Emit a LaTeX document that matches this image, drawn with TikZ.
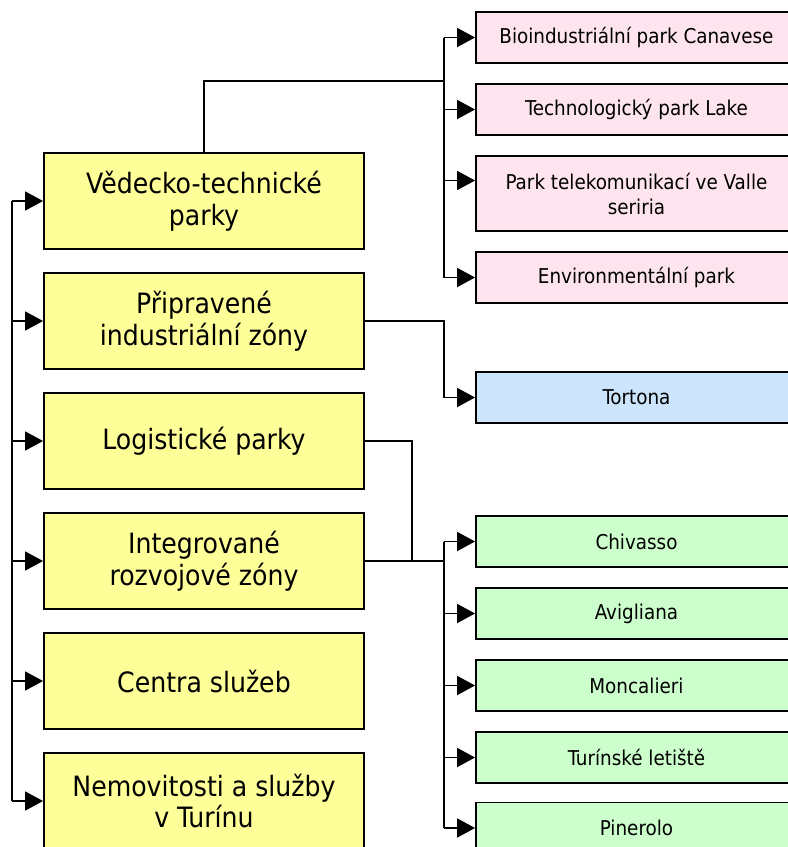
\documentclass[tikz,border=0pt]{standalone}
\usepackage{fontspec}
\setmainfont{DejaVu Sans Condensed}
\usetikzlibrary{arrows.meta}
\definecolor{yelbox}{RGB}{255,255,153}
\definecolor{pinkbox}{RGB}{253,228,238}
\definecolor{bluebox}{RGB}{204,228,252}
\definecolor{greenbox}{RGB}{204,255,204}
\tikzset{
  bigbox/.style={draw=black,line width=1.8pt,fill=yelbox,minimum width=320pt,minimum height=96pt,inner sep=0pt,align=center,font=\fontsize{28}{31.5}\selectfont},
  smallbox/.style={draw=black,line width=1.8pt,minimum width=321pt,minimum height=51pt,inner sep=0pt,align=center,font=\fontsize{20.4}{25}\selectfont},
  conn/.style={line width=1.5pt},
  tip/.style={conn,-{Triangle[length=18pt,width=19pt]}}
}

\begin{document}
\begin{tikzpicture}[x=1pt,y=-1pt]
\useasboundingbox (0,0) rectangle (788,847);
\node[bigbox] (vtp) at (204,201) {Vědecko-technické\\parky};
\node[bigbox] (piz) at (204,321) {Připravené\\industriální zóny};
\node[bigbox] (lp) at (204,441) {Logistické parky};
\node[bigbox] (irz) at (204,561) {Integrované\\rozvojové zóny};
\node[bigbox] (cs) at (204,681) {Centra služeb};
\node[bigbox] (nst) at (204,801) {Nemovitosti a služby\\v Turínu};
\node[smallbox,fill=pinkbox] (bio) at (636.5,37.5) {Bioindustriální park Canavese};
\node[smallbox,fill=pinkbox] (tech) at (636.5,109.5) {Technologický park Lake};
\node[smallbox,fill=pinkbox,minimum height=75pt] (tel) at (636.5,193.5) {Park telekomunikací ve Valle\\seriria};
\node[smallbox,fill=pinkbox] (env) at (636.5,277.5) {Environmentální park};
\node[smallbox,fill=bluebox] (tor) at (636.5,397.5) {Tortona};
\node[smallbox,fill=greenbox] (chi) at (636.5,541.5) {Chivasso};
\node[smallbox,fill=greenbox] (avi) at (636.5,613.5) {Avigliana};
\node[smallbox,fill=greenbox] (mon) at (636.5,685.5) {Moncalieri};
\node[smallbox,fill=greenbox] (let) at (636.5,757.5) {Turínské letiště};
\node[smallbox,fill=greenbox] (pin) at (636.5,828) {Pinerolo};
\coordinate (lbus) at (12,0);
\coordinate (rbus) at (444,0);
\coordinate (mid) at (412,0);
\coordinate (top) at (444,81);
\draw[conn] (vtp.west -| lbus) -- (nst.west -| lbus);
\draw[tip] (vtp.west -| lbus) -- (vtp.west);
\draw[tip] (piz.west -| lbus) -- (piz.west);
\draw[tip] (lp.west -| lbus) -- (lp.west);
\draw[tip] (irz.west -| lbus) -- (irz.west);
\draw[tip] (cs.west -| lbus) -- (cs.west);
\draw[tip] (nst.west -| lbus) -- (nst.west);
\draw[conn] (vtp.north) |- (top);
\draw[conn] (bio.west -| rbus) -- (env.west -| rbus);
\draw[tip] (bio.west -| rbus) -- (bio.west);
\draw[tip] (tech.west -| rbus) -- (tech.west);
\draw[tip] ([yshift=13pt]tel.west -| rbus) -- ([yshift=13pt]tel.west);
\draw[tip] (env.west -| rbus) -- (env.west);
\draw[tip] (piz.east) -- (piz.east -| rbus) |- (tor.west);
\draw[conn] (lp.east) -| (irz.east -| mid);
\draw[conn] (irz.east) -- (irz.east -| rbus);
\draw[conn] (chi.west -| rbus) -- (pin.west -| rbus);
\draw[tip] (chi.west -| rbus) -- (chi.west);
\draw[tip] (avi.west -| rbus) -- (avi.west);
\draw[tip] (mon.west -| rbus) -- (mon.west);
\draw[tip] (let.west -| rbus) -- (let.west);
\draw[tip] (pin.west -| rbus) -- (pin.west);
\end{tikzpicture}
\end{document}
